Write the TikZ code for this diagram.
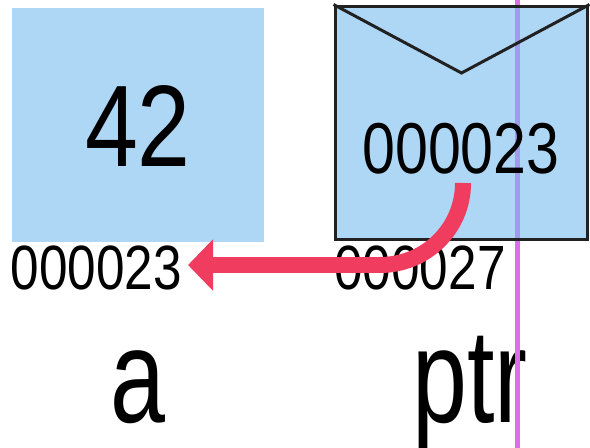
\documentclass[tikz,border=0pt]{standalone}
\usepackage{fontspec}
\setmainfont[FakeStretch=0.82]{Liberation Sans}
\newfontfamily\namefont[FakeStretch=0.74]{Liberation Sans}
\usepackage{tikz}
\usetikzlibrary{arrows.meta, shapes}

\definecolor{cellblue}{RGB}{174,214,245}
\definecolor{envblue}{RGB}{120,187,238}
\definecolor{guidepink}{RGB}{220,110,235}
\definecolor{ptrred}{RGB}{240,60,95}

\begin{document}
\begin{tikzpicture}[x=0.02cm, y=-0.02cm]
\useasboundingbox (0,0) rectangle (590,448);

% variable names
\begin{scope}[every node/.style={inner sep=0pt, anchor=base}]
    \node (Aname) at (137.5,422) {\namefont\fontsize{76}{76}\selectfont a};
    \node (Pname) at (470,422) {\namefont\fontsize{76}{76}\selectfont ptr};
\end{scope}

% guide line behind the cells
\coordinate (G1) at (517.5,0);
\coordinate (G2) at (517.5,448);
\draw[guidepink, line width=5*0.02cm] (G1) -- (G2);

\begin{scope}[every node/.style={rectangle, inner sep=0pt,
              minimum width=5.06cm, minimum height=4.68cm}]
    \node[fill=cellblue] (A) at (138,125) {};
    \node[fill=envblue, fill opacity=0.6, draw=black!87,
          line width=3*0.02cm] (P) at (461.5,123) {};
\end{scope}
\coordinate (F) at (461.5,73);
\draw[black!87, line width=3*0.02cm, line join=miter] (P.north west) -- (F) -- (P.north east);

\begin{scope}[every node/.style={inner sep=0pt}]
    \node (Aval) at (138,126.5) {\fontsize{66}{66}\selectfont 42};
    \node (Pval) at (461,149) {\fontsize{41}{41}\selectfont 000023};
    \node (Aaddr) at (96.5,267.5) {\fontsize{35.6}{36}\selectfont 000023};
    \node (Paddr) at (420,267.5) {\fontsize{35.6}{36}\selectfont 000027};
\end{scope}

\begin{scope}[>={Triangle[length=0.5cm, width=1cm]},
              every edge/.style={draw=ptrred, line width=16*0.02cm}]
    \coordinate (tail) at (463,183);
    \coordinate (bend) at (380,265);
    \coordinate (tip) at (188,265);
    \draw[ptrred, line width=16*0.02cm] (tail) to[out=-90, in=0] (bend);
    \path[->] (bend) edge (tip);
\end{scope}
\end{tikzpicture}
\end{document}
